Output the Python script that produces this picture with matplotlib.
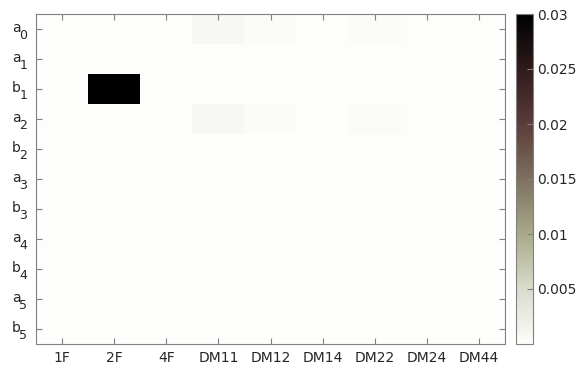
import numpy as np
import matplotlib
matplotlib.use("Agg")
import matplotlib.pyplot as plt
from matplotlib.colors import LinearSegmentedColormap
from matplotlib.transforms import offset_copy

row_letters = ["a", "a", "b", "a", "b", "a", "b", "a", "b", "a", "b"]
row_indices = ["0", "1", "1", "2", "2", "3", "3", "4", "4", "5", "5"]
cols = ["1F", "2F", "4F", "DM11", "DM12", "DM14", "DM22", "DM24", "DM44"]

row_a0 = [0, 0, 0, 0.0009, 0.0003, 0, 0.0003, 0, 0]
row_a1 = [0, 0, 0, 0, 0, 0, 0, 0, 0]
row_b1 = [0, 0.03, 0, 0, 0, 0, 0, 0, 0]
row_a2 = [0, 0, 0, 0.0009, 0.0003, 0, 0.0004, 0, 0]
zeros = [0] * 9
values = np.array([row_a0, row_a1, row_b1, row_a2] + [zeros] * 7, dtype=float)

cbar_ticks = [0.005, 0.01, 0.015, 0.02, 0.025, 0.03]
cbar_labels = ["0.005", "0.01", "0.015", "0.02", "0.025", "0.03"]

cmap = LinearSegmentedColormap.from_list("custom", [
    (0.0, "#fdfdfb"),
    (0.167, "#dadbcb"),
    (0.333, "#a9a98a"),
    (0.5, "#7d7060"),
    (0.667, "#5b3d39"),
    (0.833, "#2f1b1b"),
    (1.0, "#000000"),
])

plt.rcParams["font.family"] = "DejaVu Sans"
fig = plt.figure(figsize=(5.78, 3.69), dpi=100)
W, H = 578, 369
ax = fig.add_axes([36 / W, 1 - 344 / H, (505 - 36) / W, (344 - 14) / H])
cax = fig.add_axes([516 / W, 1 - 344 / H, (533 - 516) / W, (344 - 14) / H])

text_color = "#262626"
im = ax.imshow(values, cmap=cmap, vmin=0, vmax=0.03, aspect="auto", interpolation="nearest")
ax.set_xticks(range(len(cols)))
ax.set_xticklabels(cols)
ax.set_yticks(range(len(row_letters)))
ax.set_yticklabels([])
spine_color = "#808080"
for s in ax.spines.values():
    s.set_color(spine_color)
ax.tick_params(direction="in", top=True, right=True, color=spine_color, length=4,
               labelsize=10, labelcolor=text_color, pad=5)

ytr = ax.get_yaxis_transform()
tr_main = offset_copy(ytr, fig=fig, x=-15, y=-3, units="dots")
tr_sub = offset_copy(ytr, fig=fig, x=-16.5, y=-10, units="dots")
for i, (let, idx) in enumerate(zip(row_letters, row_indices)):
    ax.text(0, i, let, transform=tr_main, ha="right", va="baseline", fontsize=10, color=text_color)
    ax.text(0, i, idx, transform=tr_sub, ha="left", va="baseline", fontsize=9, color=text_color)

cb = fig.colorbar(im, cax=cax)
cb.set_ticks(cbar_ticks)
cb.set_ticklabels(cbar_labels)
cb.outline.set_edgecolor(spine_color)
cax.tick_params(direction="in", color=spine_color, length=4, labelsize=10, labelcolor=text_color, pad=3)

fig.savefig("out.png", dpi=100)
